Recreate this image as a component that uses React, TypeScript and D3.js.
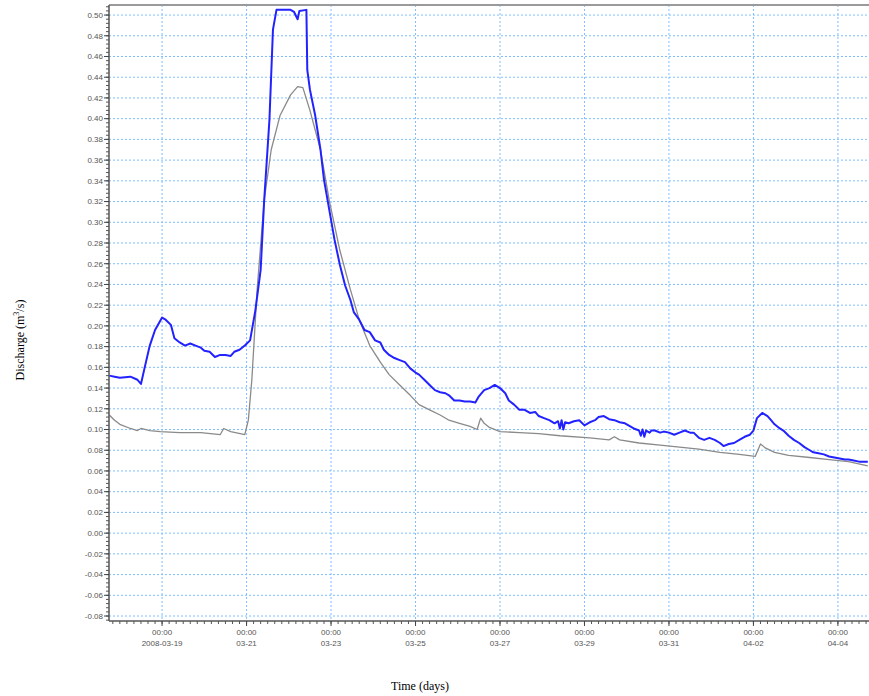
import React from "react";
import * as d3 from "d3";

const blueTimes = [
  "03-17 18:00","03-17 21:00","03-18 00:00","03-18 06:00","03-18 10:00","03-18 12:00","03-18 14:00","03-18 17:00","03-18 20:00",
  "03-19 00:00","03-19 02:00","03-19 05:00","03-19 07:00","03-19 10:00","03-19 13:00","03-19 16:00","03-19 19:00","03-19 22:00",
  "03-20 00:00","03-20 03:00","03-20 06:00","03-20 09:00","03-20 12:00","03-20 15:00","03-20 17:00","03-20 20:00","03-20 23:00",
  "03-21 02:00","03-21 05:00","03-21 08:00","03-21 10:00","03-21 13:00","03-21 15:00","03-21 17:00",
  "03-22 01:00","03-22 03:00","03-22 05:00","03-22 06:00","03-22 10:00","03-22 10:30","03-22 12:00","03-22 15:00","03-22 18:00","03-22 20:00","03-22 23:00",
  "03-23 02:00","03-23 05:00","03-23 08:00","03-23 11:00","03-23 13:00","03-23 16:00","03-23 19:00","03-23 22:00",
  "03-24 01:00","03-24 04:00","03-24 06:00","03-24 09:00","03-24 12:00","03-24 15:00","03-24 18:00","03-24 21:00",
  "03-25 00:00","03-25 02:00","03-25 05:00","03-25 08:00","03-25 11:00","03-25 14:00","03-25 17:00","03-25 19:00","03-25 22:00",
  "03-26 01:00","03-26 04:00","03-26 07:00","03-26 10:00","03-26 12:00","03-26 15:00","03-26 18:00","03-26 21:00",
  "03-27 00:00","03-27 03:00","03-27 05:00","03-27 08:00","03-27 11:00","03-27 14:00","03-27 17:00","03-27 20:00","03-27 22:00",
  "03-28 01:00","03-28 04:00","03-28 07:00","03-28 09:00","03-28 10:00","03-28 11:00","03-28 12:00","03-28 13:00","03-28 15:00","03-28 18:00","03-28 21:00",
  "03-29 00:00","03-29 03:00","03-29 06:00","03-29 08:00","03-29 11:00","03-29 14:00","03-29 17:00","03-29 20:00","03-29 23:00",
  "03-30 02:00","03-30 04:00","03-30 07:00","03-30 08:00","03-30 09:00","03-30 10:00","03-30 11:00","03-30 13:00","03-30 14:00","03-30 16:00","03-30 19:00","03-30 21:00",
  "03-31 00:00","03-31 03:00","03-31 06:00","03-31 09:00","03-31 12:00","03-31 14:00","03-31 17:00","03-31 20:00","03-31 23:00",
  "04-01 02:00","04-01 05:00","04-01 07:00","04-01 10:00","04-01 13:00","04-01 16:00","04-01 19:00","04-01 22:00",
  "04-02 00:00","04-02 02:00","04-02 05:00","04-02 08:00","04-02 10:00","04-02 12:00","04-02 15:00","04-02 17:00","04-02 20:00","04-02 23:00",
  "04-03 02:00","04-03 05:00","04-03 08:00","04-03 10:00","04-03 13:00","04-03 16:00","04-03 19:00","04-03 22:00",
  "04-04 01:00","04-04 04:00","04-04 06:00","04-04 09:00","04-04 12:00","04-04 17:00"
];
const blueValues = [
  0.152,0.151,0.150,0.151,0.148,0.144,0.159,0.181,0.196,
  0.208,0.206,0.201,0.188,0.184,0.181,0.183,0.181,0.179,
  0.176,0.175,0.170,0.172,0.172,0.171,0.175,0.177,0.181,
  0.186,0.215,0.254,0.321,0.399,0.486,0.505,
  0.505,0.503,0.496,0.504,0.505,0.447,0.428,0.403,0.370,0.341,0.312,
  0.283,0.259,0.239,0.225,0.213,0.206,0.196,0.194,
  0.186,0.184,0.177,0.172,0.169,0.167,0.165,0.159,
  0.155,0.153,0.148,0.143,0.138,0.136,0.135,0.133,0.128,
  0.128,0.127,0.127,0.126,0.132,0.138,0.140,0.143,
  0.140,0.135,0.128,0.124,0.119,0.119,0.116,0.117,0.113,
  0.111,0.109,0.106,0.108,0.101,0.109,0.100,0.107,0.106,0.108,0.109,
  0.104,0.107,0.109,0.112,0.113,0.110,0.109,0.107,0.106,
  0.103,0.101,0.099,0.094,0.100,0.093,0.099,0.097,0.099,0.099,0.097,0.098,
  0.097,0.095,0.097,0.099,0.097,0.097,0.092,0.090,0.092,
  0.090,0.087,0.084,0.086,0.087,0.090,0.093,0.095,
  0.099,0.111,0.116,0.113,0.109,0.105,0.101,0.099,0.094,0.090,
  0.087,0.083,0.080,0.078,0.077,0.076,0.074,0.073,
  0.072,0.071,0.071,0.070,0.069,0.069
];

const grayTimes = [
  "03-17 18:00","03-17 21:00","03-18 00:00","03-18 06:00","03-18 10:00","03-18 12:00","03-18 17:00","03-18 23:00",
  "03-19 10:00","03-19 22:00","03-20 09:00","03-20 11:00","03-20 15:00","03-20 23:00",
  "03-21 01:00","03-21 03:00","03-21 06:00","03-21 10:00","03-21 14:00","03-21 19:00",
  "03-22 01:00","03-22 05:00","03-22 08:00","03-22 12:00","03-22 18:00","03-22 23:00",
  "03-23 05:00","03-23 11:00","03-23 16:00","03-23 22:00",
  "03-24 04:00","03-24 09:00","03-24 15:00","03-24 21:00",
  "03-25 02:00","03-25 08:00","03-25 14:00","03-25 19:00",
  "03-26 01:00","03-26 07:00","03-26 11:00","03-26 13:00","03-26 15:00","03-26 18:00",
  "03-27 00:00","03-27 11:00","03-27 22:00","03-28 10:00","03-29 03:00","03-29 14:00","03-29 17:00","03-29 20:00",
  "03-30 07:00","03-30 19:00","03-31 06:00","03-31 17:00","04-01 05:00","04-01 16:00",
  "04-02 01:00","04-02 04:00","04-02 07:00","04-02 12:00","04-02 20:00",
  "04-03 08:00","04-03 19:00","04-04 06:00","04-04 17:00"
];
const grayValues = [
  0.114,0.109,0.105,0.101,0.099,0.101,0.099,0.098,
  0.097,0.097,0.095,0.101,0.098,0.095,
  0.109,0.148,0.235,0.321,0.370,0.403,
  0.423,0.431,0.430,0.408,0.370,0.321,
  0.273,0.235,0.206,0.181,
  0.165,0.153,0.143,0.133,
  0.124,0.119,0.114,0.109,
  0.106,0.103,0.100,0.111,0.106,0.102,
  0.098,0.097,0.096,0.094,0.092,0.090,0.093,0.090,
  0.087,0.085,0.083,0.081,0.078,0.076,
  0.074,0.086,0.082,0.078,0.075,
  0.073,0.071,0.069,0.065
];

const xTickDates = ["03-19","03-21","03-23","03-25","03-27","03-29","03-31","04-02","04-04"];
const yTickValues = [0.50,0.48,0.46,0.44,0.42,0.40,0.38,0.36,0.34,0.32,0.30,0.28,0.26,0.24,0.22,0.20,0.18,0.16,0.14,0.12,0.10,0.08,0.06,0.04,0.02,0.00,-0.02,-0.04,-0.06,-0.08];

const parseT = (s: string) => {
  const [md, hm] = s.split(" ");
  const [mo, da] = md.split("-").map(Number);
  const [h, mi] = hm.split(":").map(Number);
  return new Date(2008, mo - 1, da, h, mi);
};

export default function App() {
  const W = 869, H = 696;
  const left = 109, right = 869, top = 5, bottom = 621;
  const x = d3.scaleTime()
    .domain([new Date(2008, 2, 17, 17, 50), new Date(2008, 3, 4, 17, 40)])
    .range([left, right]);
  const y = d3.scaleLinear().domain([-0.0848, 0.5097]).range([bottom, top]);

  const blue = blueTimes.map((t, i) => ({ t: parseT(t), v: blueValues[i] }));
  const gray = grayTimes.map((t, i) => ({ t: parseT(t), v: grayValues[i] }));
  const line = d3.line<{ t: Date; v: number }>().x(d => x(d.t)).y(d => y(Math.min(d.v, 0.5097)));

  const majorX = xTickDates.map(s => parseT(s + " 00:00"));
  const minorX = d3.timeHour.every(4)!.range(x.domain()[0], x.domain()[1]);
  const minorY = d3.range(-0.084, 0.509, 0.004).map(v => Math.round(v * 1000) / 1000);

  const gridColor = "#7fbfff";
  const tickFont = "Arial, 'Liberation Sans', sans-serif";

  return (
    <svg width={W} height={H} style={{ position: "absolute", left: 0, top: 0, background: "#fff" }}>
      <defs>
        <clipPath id="plot">
          <rect x={left} y={top} width={right - left} height={bottom - top} />
        </clipPath>
      </defs>
      {/* grid */}
      {yTickValues.map(v => (
        <line key={"gy" + v} x1={left} x2={right} y1={y(v)} y2={y(v)} stroke={gridColor} strokeWidth={1} strokeDasharray="2,2" />
      ))}
      {majorX.map((d, i) => (
        <line key={"gx" + i} x1={x(d)} x2={x(d)} y1={top} y2={bottom} stroke={gridColor} strokeWidth={1} strokeDasharray="2,2" />
      ))}
      {/* series */}
      <g clipPath="url(#plot)">
        <path d={line(gray) || ""} fill="none" stroke="#8a8a8a" strokeWidth={1.3} strokeLinejoin="round" />
        <path d={line(blue) || ""} fill="none" stroke="#2222ff" strokeWidth={2} strokeLinejoin="round" />
      </g>
      {/* top border */}
      <line x1={left} x2={right} y1={top} y2={top} stroke="#9a9a9a" strokeWidth={2} />
      {/* y axis */}
      <line x1={left} x2={left} y1={top} y2={bottom} stroke="#555" strokeWidth={1.5} />
      {minorY.map(v => (
        <line key={"my" + v} x1={left - 3} x2={left} y1={y(v)} y2={y(v)} stroke="#555" strokeWidth={1} />
      ))}
      {yTickValues.map(v => (
        <g key={"ty" + v}>
          <line x1={left - 5} x2={left} y1={y(v)} y2={y(v)} stroke="#444" strokeWidth={1} />
          <text x={left - 6} y={y(v)} dy="0.35em" textAnchor="end" fontSize={8} fontFamily={tickFont} fill="#555">
            {d3.format(".2f")(v).replace("−", "-")}
          </text>
        </g>
      ))}
      {/* x axis */}
      <line x1={left} x2={right} y1={bottom} y2={bottom} stroke="#555" strokeWidth={1.5} />
      {minorX.map((d, i) => (
        <line key={"mx" + i} x1={x(d)} x2={x(d)} y1={bottom} y2={bottom + 3} stroke="#555" strokeWidth={1} />
      ))}
      {majorX.map((d, i) => (
        <g key={"tx" + i}>
          <line x1={x(d)} x2={x(d)} y1={bottom} y2={bottom + 5} stroke="#444" strokeWidth={1} />
          <text x={x(d)} y={bottom + 14} textAnchor="middle" fontSize={8} fontFamily={tickFont} fill="#555">00:00</text>
          <text x={x(d)} y={bottom + 25} textAnchor="middle" fontSize={8} fontFamily={tickFont} fill="#555">
            {i === 0 ? "2008-" + xTickDates[i] : xTickDates[i]}
          </text>
        </g>
      ))}
      {/* axis titles */}
      <text x={420} y={690} textAnchor="middle" fontSize={12} fontFamily="'Liberation Serif', 'Times New Roman', serif" fill="#000">Time (days)</text>
      <text transform="translate(24,340) rotate(-90)" textAnchor="middle" fontSize={12} fontFamily="'Liberation Serif', 'Times New Roman', serif" fill="#000">
        Discharge (m<tspan dy="-5" fontSize={8}>3</tspan><tspan dy="5">/s)</tspan>
      </text>
    </svg>
  );
}
